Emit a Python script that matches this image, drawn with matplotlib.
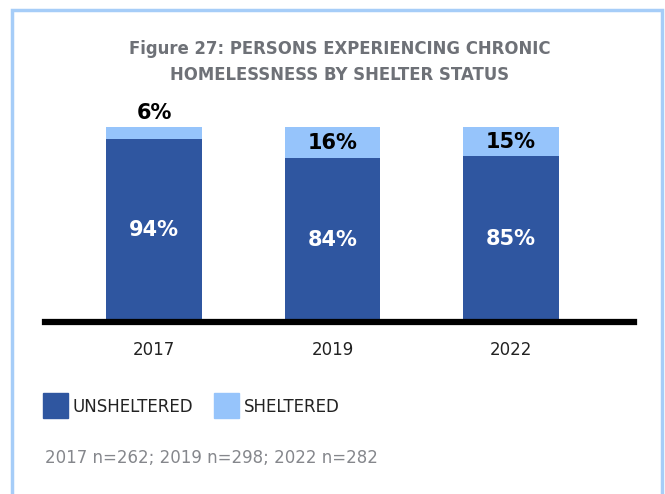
import matplotlib.pyplot as plt
from matplotlib.patches import Rectangle

years = ['2017', '2019', '2022']
unsheltered = [94, 84, 85]
sheltered = [6, 16, 15]
legend_labels = ['UNSHELTERED', 'SHELTERED']
title = 'Figure 27: PERSONS EXPERIENCING CHRONIC\nHOMELESSNESS BY SHELTER STATUS'
note = '2017 n=262; 2019 n=298; 2022 n=282'

dark = '#2f56a0'
light = '#96c4fb'
grey = '#6e7177'

plt.rcParams['font.family'] = ['DejaVu Sans']

fig = plt.figure(figsize=(6.65, 4.94), dpi=100)
W, H = 665, 494

# light blue frame
fig.patches.append(Rectangle((12 / W, -0.1), 650 / W, 1.1 - 10 / H,
                             transform=fig.transFigure, fill=False,
                             edgecolor='#a6cdf8', linewidth=2.5))

ax = fig.add_axes([45 / W, 1 - 322 / H, 589 / W, 195 / H])
x = range(len(years))
ax.bar(x, unsheltered, width=0.535, color=dark)
ax.bar(x, sheltered, width=0.535, bottom=unsheltered, color=light)
ax.set_xlim(-0.612, 2.69)
ax.set_ylim(0, 100)

for i in x:
    ax.text(i, unsheltered[i] / 2, f'{unsheltered[i]}%', ha='center', va='center',
            color='white', fontsize=15, fontweight='bold')
    if sheltered[i] < 10:
        ax.text(i, 100 + 2, f'{sheltered[i]}%', ha='center', va='bottom',
                color='black', fontsize=15, fontweight='bold')
    else:
        ax.text(i, unsheltered[i] + sheltered[i] / 2, f'{sheltered[i]}%', ha='center',
                va='center', color='black', fontsize=15, fontweight='bold')

ax.axhline(0, color='black', linewidth=4.5, clip_on=False)
for s in ax.spines.values():
    s.set_visible(False)
ax.set_yticks([])
ax.set_xticks(list(x))
ax.set_xticklabels(years, fontsize=12, color='#222222')
ax.tick_params(axis='x', length=0, pad=14)

fig.text(340 / W, 1 - 62 / H, title, ha='center', va='center', fontsize=11.9,
         fontweight='bold', color=grey, linespacing=1.55)

# legend
for lbl, col, x0 in zip(legend_labels, [dark, light], [43, 214]):
    fig.patches.append(Rectangle((x0 / W, 1 - 418 / H), 25 / W, 25 / H,
                                 transform=fig.transFigure, color=col))
    fig.text((x0 + 30) / W, 1 - 407 / H, lbl, ha='left', va='center',
             fontsize=12, color='#222222')

fig.text(45 / W, 1 - 458 / H, note, ha='left', va='center', fontsize=12, color='#85878c')

fig.savefig('out.png', dpi=100)
